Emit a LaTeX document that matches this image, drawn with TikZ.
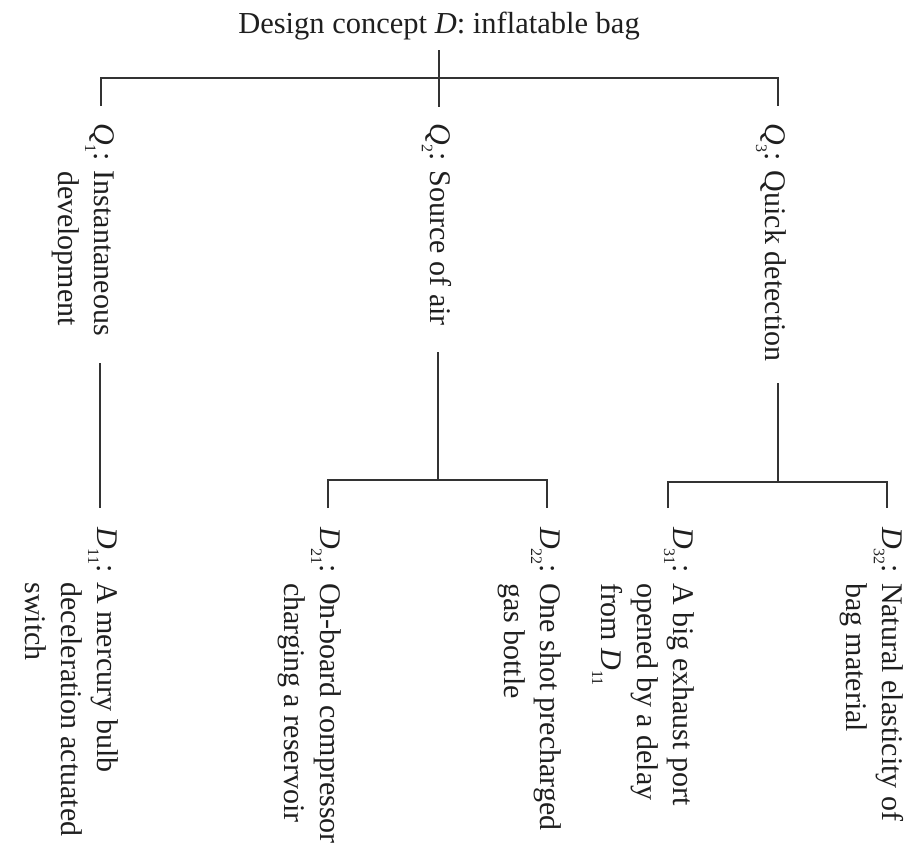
\documentclass[tikz,border=0pt]{standalone}
\usepackage{fontspec}
\setmainfont{Liberation Serif}
\newcommand\lowsub[1]{\raisebox{-0.3em}{\fontsize{16}{16}\selectfont #1}}
\begin{document}
\begin{tikzpicture}[x=1pt,y=-1pt,
  txt/.style={inner sep=0pt, outer sep=0pt, font=\fontsize{30}{36}\selectfont, text=black!88},
  lbl/.style={txt, rotate=-90, anchor=north west, align=left},
  conn/.style={line width=1.6pt, draw=black!80}]
\useasboundingbox (0,0) rectangle (923,857);
% title
\node[txt, anchor=base, font=\fontsize{30.5}{36}\selectfont] (title) at (439,33) {Design concept \textit{D}: inflatable bag};
% level Q
\node[lbl] (Q1) at (114,123) {\textit{Q}\lowsub{1}: Instantaneous\\\phantom{\textit{Q}\lowsub{1}: }development};
\node[lbl] (Q2) at (452,123) {\textit{Q}\lowsub{2}: Source of air};
\node[lbl] (Q3) at (786,123) {\textit{Q}\lowsub{3}: Quick detection};
% level D
\node[lbl] (D11) at (118,527) {\textit{D}\lowsub{11}: A mercury bulb\\\phantom{\textit{D}\lowsub{11}: }deceleration actuated\\\phantom{\textit{D}\lowsub{11}: }switch};
\node[lbl] (D21) at (341,527) {\textit{D}\lowsub{21}: On-board compressor\\\phantom{\textit{D}\lowsub{21}: }charging a reservoir};
\node[lbl] (D22) at (561,527) {\textit{D}\lowsub{22}: One shot precharged\\\phantom{\textit{D}\lowsub{22}: }gas bottle};
\node[lbl] (D31) at (694,527) {\textit{D}\lowsub{31}: A big exhaust port\\\phantom{\textit{D}\lowsub{31}: }opened by a delay\\\phantom{\textit{D}\lowsub{31}: }from \textit{D}\lowsub{11}};
\node[lbl] (D32) at (904,527) {\textit{D}\lowsub{32}: Natural elasticity of\\\phantom{\textit{D}\lowsub{32}: }bag material};
% connector points
\coordinate (t0) at (439,50);
\coordinate (t1) at (439,107);
\coordinate (b1) at (101,78);
\coordinate (b3) at (778,78);
\coordinate (q1top) at (101,106);
\coordinate (q3top) at (778,106);
\coordinate (q1bot) at (100,363);
\coordinate (d11top) at (100,508);
\coordinate (q2bot) at (438,352);
\coordinate (j2) at (438,480);
\coordinate (j2l) at (328,480);
\coordinate (j2r) at (547,480);
\coordinate (d21top) at (328,508);
\coordinate (d22top) at (547,508);
\coordinate (q3bot) at (778,383);
\coordinate (j3) at (778,482);
\coordinate (j3l) at (668,482);
\coordinate (j3r) at (887,482);
\coordinate (d31top) at (668,508);
\coordinate (d32top) at (887,508);
% connectors
\draw[conn] (t0) -- (t1);
\draw[conn] (q1top) -- (b1) -- (b3) -- (q3top);
\draw[conn] (q1bot) -- (d11top);
\draw[conn] (q2bot) -- (j2);
\draw[conn] (d21top) -- (j2l) -- (j2r) -- (d22top);
\draw[conn] (q3bot) -- (j3);
\draw[conn] (d31top) -- (j3l) -- (j3r) -- (d32top);
\end{tikzpicture}
\end{document}
